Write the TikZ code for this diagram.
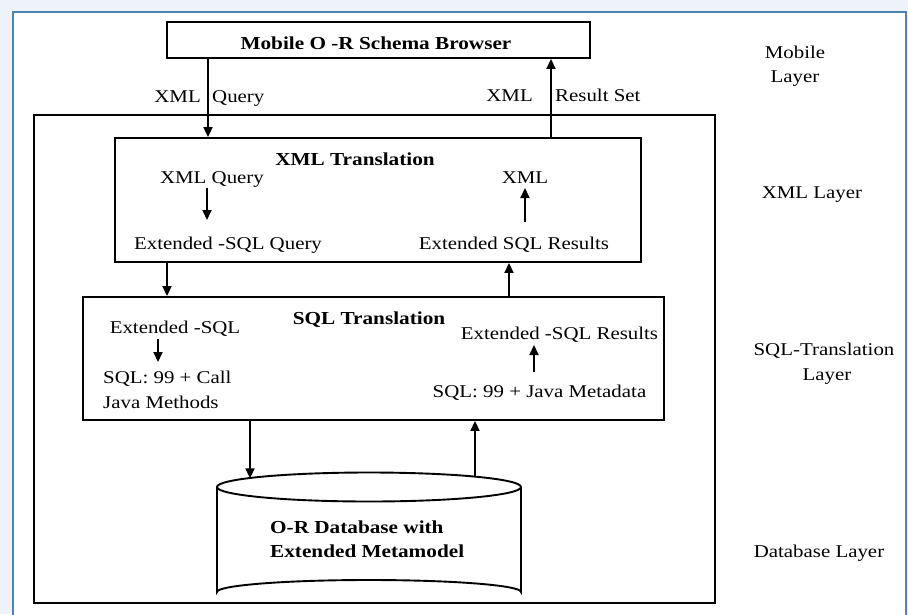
\documentclass[tikz,border=0pt]{standalone}
\usepackage{fontspec}
\setmainfont[FakeStretch=1.16]{Liberation Serif}
\usetikzlibrary{arrows.meta,calc}
\definecolor{pagebg}{HTML}{EEF3FA}
\definecolor{panelline}{HTML}{4F83B0}

\begin{document}
\begin{tikzpicture}[x=1pt,y=-1pt,
  box/.style={draw, line width=1.9pt, inner sep=0pt},
  arr/.style={line width=1.9pt, -{Triangle[length=10pt,width=9pt]}},
  txt/.style={font=\fontsize{18}{21}\selectfont, inner sep=0pt, anchor=base},
  btxt/.style={txt, font=\fontsize{18.3}{21}\selectfont\bfseries},
  lft/.style={anchor=base west},
]
\useasboundingbox (0,0) rectangle (908,614);
% page and panel
\fill[pagebg] (0,0) rectangle (908,614);
\draw[panelline, line width=1.5pt, fill=white] (13,12) rectangle (906,640);

% boxes
\node[box, minimum width=423pt, minimum height=36pt] (mob) at (378.5,40) {};
\node[box, minimum width=681pt, minimum height=488pt] (outer) at (374.5,359) {};
\node[box, minimum width=526pt, minimum height=124pt] (xml) at (378,200) {};
\node[box, minimum width=581pt, minimum height=123pt] (sql) at (373.5,358.5) {};

% database cylinder
\draw[line width=1.9pt, fill=white] (217,487) -- (217,592)
  arc[start angle=180, end angle=360, x radius=152, y radius=12] -- (521,487);
\draw[line width=1.9pt] (369,487) ellipse [x radius=152, y radius=14.5];
\coordinate (dbin) at (250,478.3);
\coordinate (dbout) at (475,476.6);

% box titles
\node[btxt] (mobt) at (376,49) {Mobile O -R Schema Browser};
\node[btxt] (xmlt) at (355,165) {XML Translation};
\node[btxt] (sqlt) at (369,324) {SQL Translation};
\node[btxt, lft] (db1) at (270,533) {O-R Database with};
\node[btxt, lft] (db2) at (270,557) {Extended Metamodel};

% XML translation contents
\node[txt] (xq) at (212,183) {XML Query};
\node[txt] (esq) at (228,249) {Extended -SQL Query};
\node[txt] (xr) at (525,183) {XML};
\node[txt] (esr) at (514,249) {Extended SQL Results};

% SQL translation contents
\node[txt] (es) at (175,333) {Extended -SQL};
\node[txt, lft] (sc) at (103,383) {SQL: 99 + Call};
\node[txt, lft] (jm) at (103,408) {Java Methods};
\node[txt] (esr2) at (559.5,339) {Extended -SQL Results};
\node[txt] (sjm) at (539.5,397) {SQL: 99 + Java Metadata};

% connector labels
\node[txt, anchor=base east] (lq1) at (201,102) {XML};
\node[txt, lft] (lq2) at (212,102) {Query};
\node[txt, anchor=base east] (lr1) at (533,101) {XML};
\node[txt, lft] (lr2) at (555,101) {Result Set};

% layer names
\node[txt] (ml1) at (795,58) {Mobile};
\node[txt] (ml2) at (795,82) {Layer};
\node[txt] (xl) at (812,198) {XML Layer};
\node[txt] (sl1) at (824,355) {SQL-Translation};
\node[txt] (sl2) at (827,380) {Layer};
\node[txt] (dl) at (819,557) {Database Layer};

% connectors between layers
\draw[arr] (mob.south -| 208,0) -- (xml.north -| 208,0);
\draw[arr] (xml.north -| 551,0) -- (mob.south -| 551,0);
\draw[arr] (xml.south -| 167,0) -- (sql.north -| 167,0);
\draw[arr] (sql.north -| 509,0) -- (xml.south -| 509,0);
\draw[arr] (sql.south -| 250,0) -- (dbin);
\draw[arr] (dbout) -- (sql.south -| 475,0);

% steps inside the translation boxes
\draw[arr] ($(xq.base -| 207,0)+(0,5)$) -- ++(0,32);
\draw[arr] ($(esr.base -| 525,0)+(0,-27)$) -- ($(xr.base -| 525,0)+(0,5)$);
\draw[arr] ($(es.base -| 158,0)+(0,6)$) -- ++(0,23);
\draw[arr] ($(sjm.base -| 534,0)+(0,-25)$) -- ($(esr2.base -| 534,0)+(0,6)$);
\end{tikzpicture}
\end{document}
